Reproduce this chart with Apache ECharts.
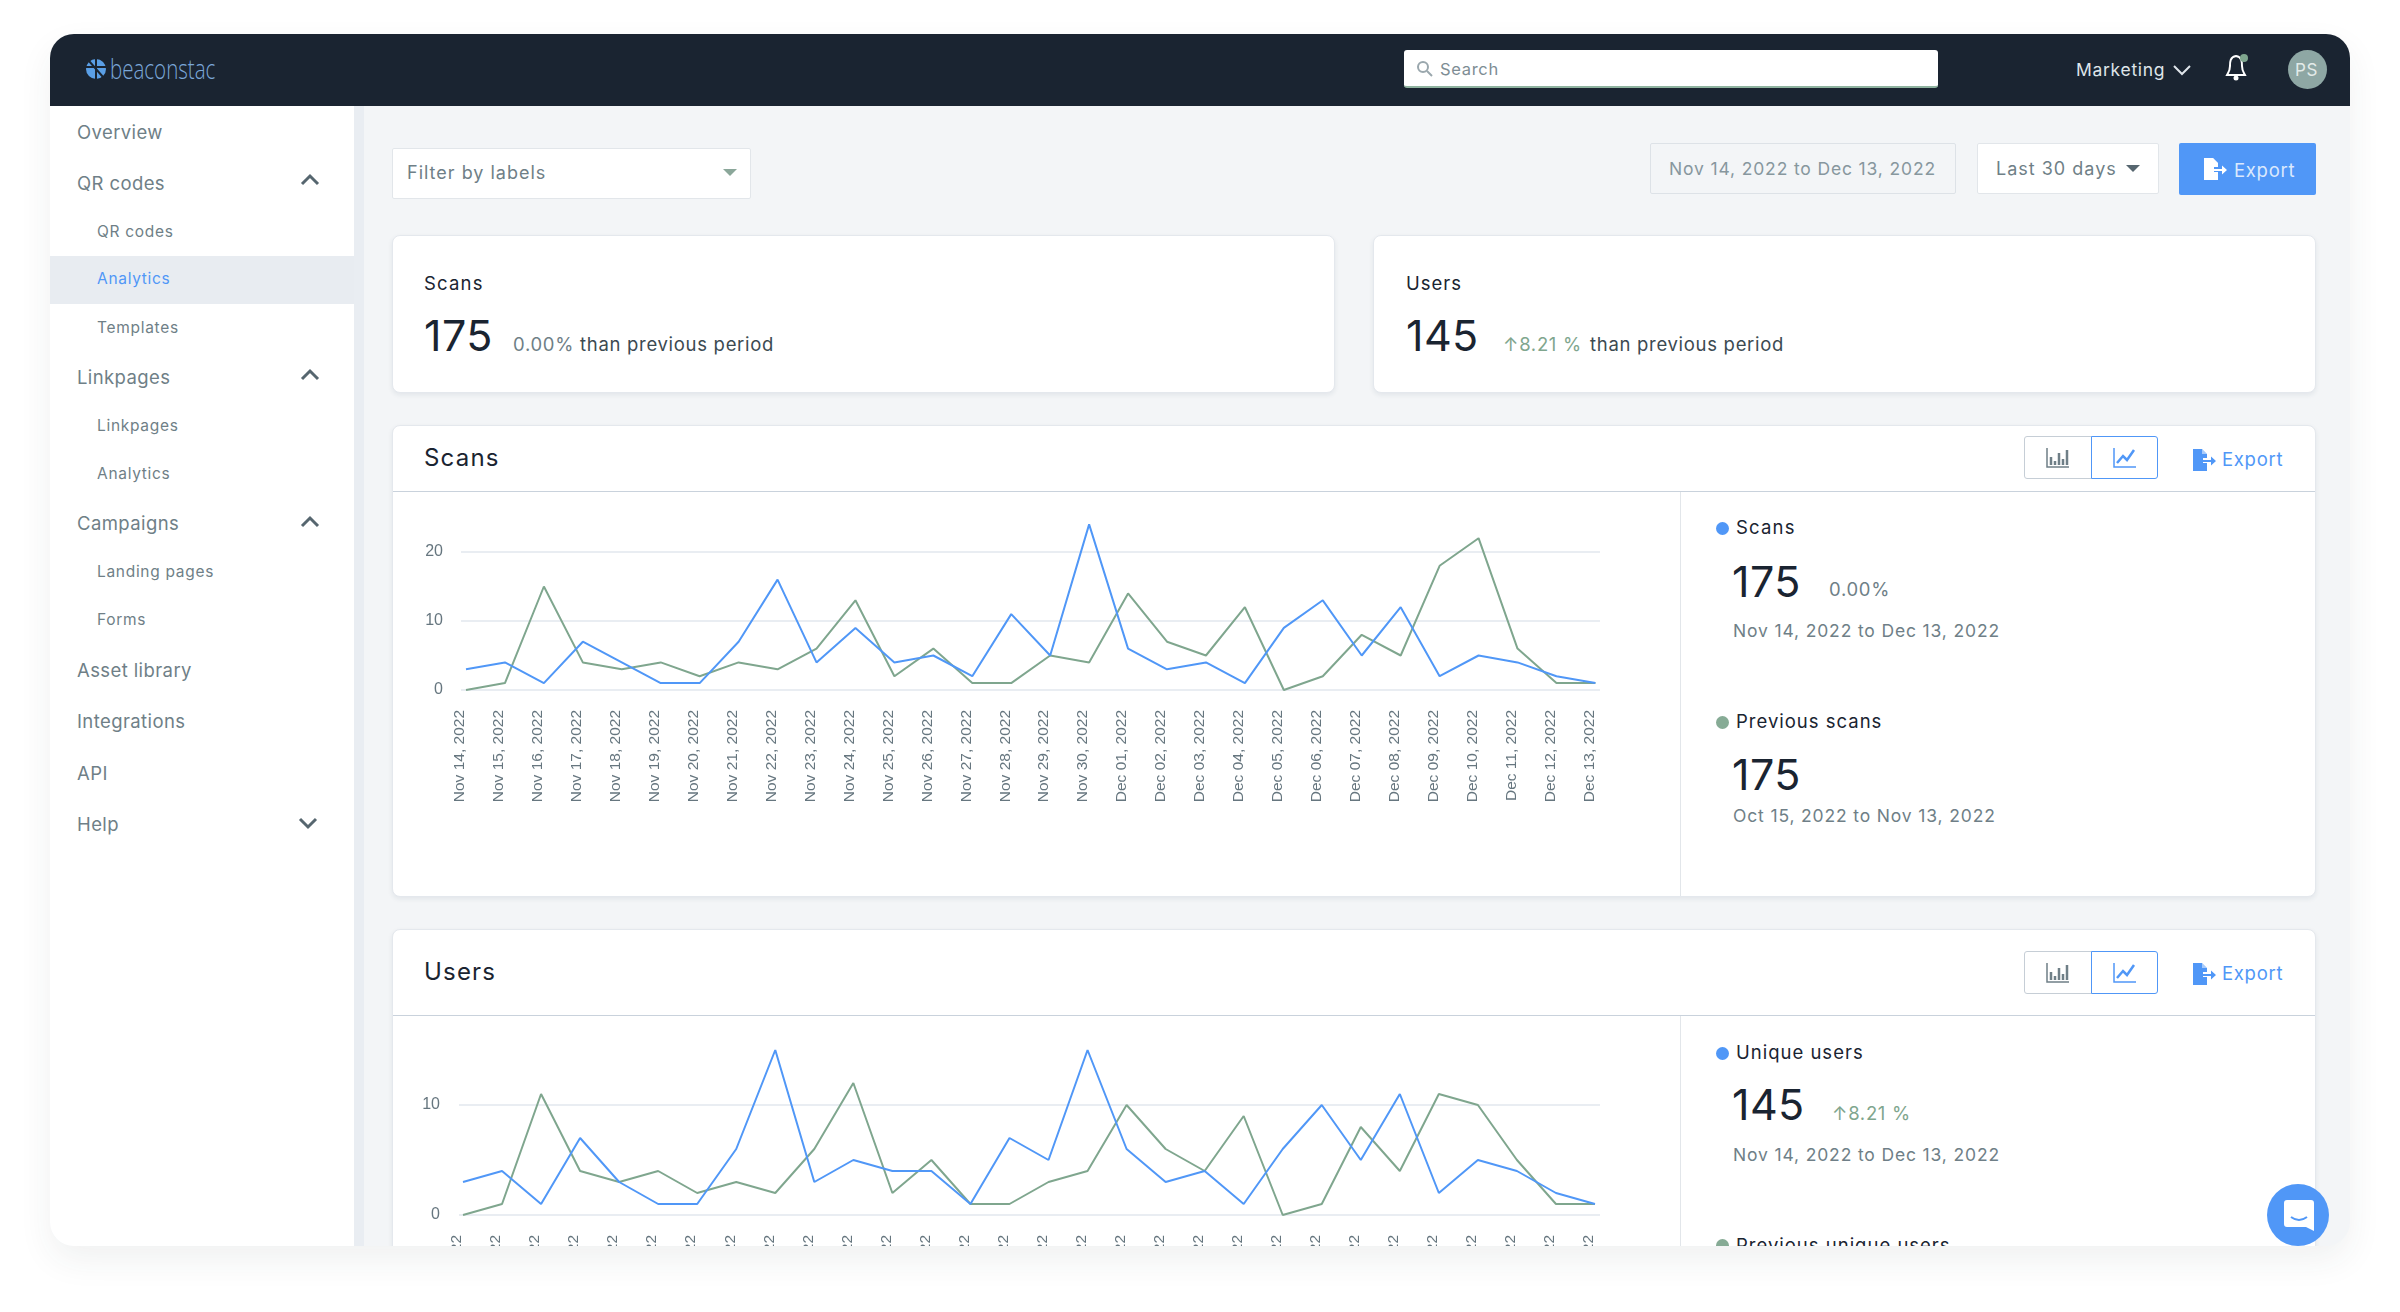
<!DOCTYPE html>
<html>
<head>
<meta charset="utf-8">
<title>Beaconstac analytics</title>
<script src="https://cdn.jsdelivr.net/npm/echarts@6/dist/echarts.min.js"></script>
<style>
  html, body { margin: 0; padding: 0; background: #fff; width: 2400px; height: 1312px; overflow: hidden; font-family: Inter, "Noto Sans", sans-serif; }
  #root { position: absolute; left: 0; top: 0; width: 2400px; height: 1312px; }
  #frame { position: absolute; left: 50px; top: 34px; width: 2300px; height: 1212px; border-radius: 24px; overflow: hidden; background: #f3f5f7; box-shadow: 0 14px 34px rgba(40,50,60,.07); }
  #stage { position: absolute; left: -50px; top: -34px; width: 2400px; height: 1312px; }
  .box { position: absolute; box-sizing: border-box; }
  .t { position: absolute; white-space: nowrap; line-height: 60px; letter-spacing: .7px; }
  .card { background: #fff; border: 1px solid #e4e8ed; border-radius: 8px; box-shadow: 0 2px 5px rgba(30,50,80,.08); }
  .chart { position: absolute; }
</style>
</head>
<body>
<div id="root"><div id="frame"><div id="stage"></div></div></div>
<script>
// 日期轴
const dates = ['Nov 14, 2022','Nov 15, 2022','Nov 16, 2022','Nov 17, 2022','Nov 18, 2022','Nov 19, 2022','Nov 20, 2022','Nov 21, 2022','Nov 22, 2022','Nov 23, 2022','Nov 24, 2022','Nov 25, 2022','Nov 26, 2022','Nov 27, 2022','Nov 28, 2022','Nov 29, 2022','Nov 30, 2022','Dec 01, 2022','Dec 02, 2022','Dec 03, 2022','Dec 04, 2022','Dec 05, 2022','Dec 06, 2022','Dec 07, 2022','Dec 08, 2022','Dec 09, 2022','Dec 10, 2022','Dec 11, 2022','Dec 12, 2022','Dec 13, 2022'];

const scans = [3,4,1,7,4,1,1,7,16,4,9,4,5,2,11,5,24,6,3,4,1,9,13,5,12,2,5,4,2,1];
const previousScans = [0,1,15,4,3,4,2,4,3,6,13,2,6,1,1,5,4,14,7,5,12,0,2,8,5,18,22,6,1,1];
const users = [3,4,1,7,3,1,1,6,15,3,5,4,4,1,7,5,15,6,3,4,1,6,10,5,11,2,5,4,2,1];
const previousUsers = [0,1,11,4,3,4,2,3,2,6,12,2,5,1,1,3,4,10,6,4,9,0,1,8,4,11,10,5,1,1];

const BLUE = '#5097f7', GREEN = '#7fa68e', INK = '#1a2431', GREY = '#6f7f87';
const BIG = 'letter-spacing:.4px';

const stage = document.getElementById('stage');
let html = '';

function box(x, y, w, h, style) {
  html += '<div class="box" style="left:' + x + 'px;top:' + y + 'px;width:' + w + 'px;height:' + h + 'px;' + (style || '') + '"></div>';
}
function card(x, y, w, h) {
  html += '<div class="box card" style="left:' + x + 'px;top:' + y + 'px;width:' + w + 'px;height:' + h + 'px"></div>';
}
function text(x, cy, s, size, color, extra) {
  html += '<span class="t" style="left:' + x + 'px;top:' + (cy - 30) + 'px;font-size:' + size + 'px;color:' + color + ';' + (extra || '') + '">' + s + '</span>';
}
function svg(x, y, w, h, body) {
  html += '<svg style="position:absolute;left:' + x + 'px;top:' + y + 'px" width="' + w + '" height="' + h + '" viewBox="0 0 ' + w + ' ' + h + '">' + body + '</svg>';
}
function chevron(cx, cy, up, color, sw) {
  const d = up ? -1 : 1;
  svg(cx - 10, cy - 8, 20, 16, '<path d="M2 ' + (8 - 4 * d) + ' L10 ' + (8 + 4 * d) + ' L18 ' + (8 - 4 * d) + '" fill="none" stroke="' + color + '" stroke-width="' + sw + '"/>');
}
function caret(cx, cy, color) {
  svg(cx - 7, cy - 4, 14, 8, '<path d="M0 0 L14 0 L7 7 Z" fill="' + color + '"/>');
}
function fileIcon(x, y, color) {
  svg(x, y, 24, 24, '<path d="M1 1 H10 L15 6 V10 H11 V15 H15 V23 H1 Z" fill="' + color + '"/><path d="M10 1 L15 6 H10 Z" fill="#fff" opacity=".5"/><path d="M11 12 H19 V8.5 L24 13 L19 17.5 V14 H11 Z" fill="' + color + '"/>');
}

// 顶栏
box(50, 34, 2300, 72, 'background:#1a2431');
svg(85, 58, 22, 22, '<circle cx="11" cy="11" r="10" fill="#5a9fe6"/><path d="M11 0 V22 M0 9 H22 M4 3 L18 19" stroke="#1a2431" stroke-width="2"/>');
text(110, 69, 'beaconstac', 27, '#7aa7d8', 'font-family:\'Open Sans\';font-weight:300;letter-spacing:0;transform:scaleX(.76);transform-origin:left center');
box(1404, 50, 534, 38, 'background:#fff;border-radius:3px;border-bottom:2px solid #8fb3a0');
svg(1416, 60, 18, 18, '<circle cx="7" cy="7" r="5" fill="none" stroke="#9aa7ad" stroke-width="2"/><path d="M11 11 L16 16" stroke="#9aa7ad" stroke-width="2"/>');
text(1440, 69, 'Search', 16.5, '#7e8d94');
text(2076, 69.5, 'Marketing', 17.5, '#dfe5ea');
chevron(2182, 70, false, '#dfe5ea', 2);
svg(2224, 52, 26, 30, '<path d="M12 4 C6 5 6 10 6 14 C6 19 4 21 3 23 H21 C20 21 18 19 18 14 C18 10 18 5 12 4 Z" fill="none" stroke="#fff" stroke-width="2"/><circle cx="12" cy="26" r="2.5" fill="#fff"/><circle cx="20" cy="6" r="4" fill="#7fa68e"/>');
box(2288, 50, 39, 39, 'background:#8ea7a4;border-radius:50%');
text(2295, 69.5, 'PS', 17, '#e3ebe9');

// 侧边栏
box(354, 106, 10, 1140, 'background:#e9edf2');
box(50, 106, 304, 1140, 'background:#fff');
box(50, 256, 304, 48, 'background:#e8ecf1');
const navTop = ['Overview','QR codes','Linkpages','Campaigns','Asset library','Integrations','API','Help'];
const navTopY = [132,183,376.5,523,670,721,773,824];
navTop.forEach((s, i) => text(77, navTopY[i], s, 18.5, GREY, 'letter-spacing:.4px'));
const navSub = ['QR codes','Analytics','Templates','Linkpages','Analytics','Landing pages','Forms'];
const navSubY = [232,279,328,426,474,572,620];
navSub.forEach((s, i) => text(97, navSubY[i], s, 15.5, i === 1 ? BLUE : GREY));
chevron(310, 180, true, '#56666f', 3);
chevron(310, 375, true, '#56666f', 3);
chevron(310, 522, true, '#56666f', 3);
chevron(308, 823, false, '#56666f', 3);

// 筛选行
box(392, 148, 359, 51, 'background:#fff;border:1px solid #e2e6ea;border-radius:2px');
text(407, 173, 'Filter by labels', 18, GREY, 'letter-spacing:1px');
caret(730, 173, '#8ba79a');
box(1650, 143, 306, 51, 'background:#f3f5f7;border:1px solid #dde2e7;border-radius:2px');
text(1669, 168.5, 'Nov 14, 2022 to Dec 13, 2022', 17.5, '#87979e', 'letter-spacing:.85px');
box(1977, 143, 182, 51, 'background:#fff;border:1px solid #e2e6ea;border-radius:2px');
text(1996, 168.5, 'Last 30 days', 18, GREY, 'letter-spacing:1px');
caret(2133, 169, '#56666f');
box(2179, 143, 137, 52, 'background:' + BLUE + ';border-radius:2px');
fileIcon(2203, 157, '#fff');
text(2234, 170, 'Export', 18.5, '#dbe9fd');

// 统计卡片
card(392, 235, 943, 158);
card(1373, 235, 943, 158);
text(424, 283, 'Scans', 18.5, INK, 'letter-spacing:1.2px');
text(424, 335, '175', 43, INK, BIG);
text(513, 344, '0.00%', 18.5, GREY);
text(580, 344, 'than previous period', 18.5, '#3c4a52');
text(1406, 283, 'Users', 18.5, INK, 'letter-spacing:1px');
text(1406, 335, '145', 43, INK, BIG);
text(1503, 344, '↑8.21 %', 18.5, GREEN);
text(1590, 344, 'than previous period', 18.5, '#3c4a52');

// 图表卡片头部和右侧说明
function chartCard(top, lineY, bottom, title, titleY, btnTop, btnH, exportY) {
  card(392, top, 1924, bottom - top);
  box(393, lineY, 1922, 1, 'background:#c9d2dc');
  box(1680, lineY + 1, 1, bottom - lineY - 2, 'background:#e2e6ea');
  text(424, titleY, title, 24, INK, 'letter-spacing:1.2px');
  box(2024, btnTop, 68, btnH, 'background:#fff;border:1px solid #c6ced6;border-radius:3px 0 0 3px');
  box(2091, btnTop, 67, btnH, 'background:#fff;border:1px solid ' + BLUE + ';border-radius:0 3px 3px 0');
  const iy = btnTop + btnH / 2 - 11;
  svg(2046, iy, 24, 22, '<path d="M1 1 V20 H23" fill="none" stroke="#6f7f87" stroke-width="1.5"/><path d="M5 10 V18 M9 14 V18 M13 6 V18 M17 12 V18 M21 3 V18" stroke="#6f7f87" stroke-width="2.5"/>');
  svg(2113, iy, 24, 22, '<path d="M1 1 V20 H23" fill="none" stroke="' + BLUE + '" stroke-width="1.5"/><path d="M4 16 L10 9 L14 13 L21 3" fill="none" stroke="' + BLUE + '" stroke-width="2.5"/>');
  fileIcon(2192, exportY - 11, BLUE);
  text(2222, exportY, 'Export', 18.5, BLUE);
}
function dot(y, color) {
  box(1716, y - 6.5, 13, 13, 'background:' + color + ';border-radius:50%');
}
chartCard(425, 491, 897, 'Scans', 458, 436, 43, 459);
dot(528, BLUE);
text(1736, 527, 'Scans', 18.5, INK, 'letter-spacing:1.2px');
text(1732, 581, '175', 43, INK, BIG);
text(1829, 589, '0.00%', 18.5, GREY);
text(1733, 630.5, 'Nov 14, 2022 to Dec 13, 2022', 17.5, GREY, 'letter-spacing:.85px');
dot(722, '#86ab95');
text(1736, 721, 'Previous scans', 18.5, INK, 'letter-spacing:1px');
text(1732, 774, '175', 43, INK, BIG);
text(1733, 815.5, 'Oct 15, 2022 to Nov 13, 2022', 17.5, GREY, 'letter-spacing:.85px');

chartCard(929, 1015, 1300, 'Users', 972, 951, 43, 973);
dot(1053, BLUE);
text(1736, 1052, 'Unique users', 18.5, INK, 'letter-spacing:1px');
text(1732, 1104, '145', 43, INK, BIG);
text(1832, 1113, '↑8.21 %', 18.5, GREEN);
text(1733, 1155, 'Nov 14, 2022 to Dec 13, 2022', 17.5, GREY, 'letter-spacing:.85px');
dot(1245, '#86ab95');
text(1736, 1245, 'Previous unique users', 18.5, INK, 'letter-spacing:1px');

// 右下角聊天按钮
box(2267, 1184, 62, 62, 'background:' + BLUE + ';border-radius:50%');
svg(2284, 1200, 30, 32, '<path d="M3 0 H27 Q30 0 30 3 V31 L22 27 H3 Q0 27 0 24 V3 Q0 0 3 0 Z" fill="#fff"/><path d="M7 17 Q15 23 23 17" fill="none" stroke="' + BLUE + '" stroke-width="2"/>');

html += '<div id="chart-scans" class="chart" style="left:392px;top:492px;width:1288px;height:405px"></div>';
html += '<div id="chart-users" class="chart" style="left:392px;top:1016px;width:1288px;height:230px"></div>';
stage.innerHTML = html;

function renderChart(id, cfg) {
  const chart = echarts.init(document.getElementById(id));
  const gridH = cfg.yMax * cfg.unit;
  const gridTop = cfg.zeroY - gridH;
  chart.setOption({
    animation: false,
    textStyle: { fontFamily: 'Liberation Sans' },
    grid: [
      // outerBoundsMode none: 否则竖排标签会把绘图区压缩
      { left: cfg.lineLeft, width: cfg.lineWidth, top: gridTop, height: gridH, outerBoundsMode: 'none' },
      { left: cfg.plotLeft, width: cfg.plotWidth, top: gridTop, height: gridH, outerBoundsMode: 'none' }
    ],
    xAxis: [
      { gridIndex: 0, type: 'value', show: false, min: 0, max: 1 },
      {
        gridIndex: 1, type: 'category', data: dates, boundaryGap: false,
        axisLine: { show: false }, axisTick: { show: false },
        axisLabel: { interval: 0, rotate: 90, margin: 20, align: 'right', verticalAlign: 'bottom', lineHeight: 12, fontSize: 15.5, color: '#66767f', fontFamily: 'Liberation Sans' }
      }
    ],
    yAxis: [
      {
        gridIndex: 0, type: 'value', min: 0, max: cfg.yMax, interval: 10,
        axisLine: { show: false }, axisTick: { show: false },
        axisLabel: { margin: cfg.labelMargin, showMaxLabel: false, fontSize: 16, color: '#66767f', fontFamily: 'Liberation Sans' },
        splitLine: { showMaxLine: false, lineStyle: { color: '#e2e7ee', width: 1.6 } }
      },
      { gridIndex: 1, type: 'value', show: false, min: 0, max: cfg.yMax, splitLine: { show: false } }
    ],
    series: [
      { type: 'line', name: cfg.names[1], xAxisIndex: 1, yAxisIndex: 1, data: cfg.previous, showSymbol: false, lineStyle: { color: GREEN, width: 2 }, itemStyle: { color: GREEN } },
      { type: 'line', name: cfg.names[0], xAxisIndex: 1, yAxisIndex: 1, data: cfg.current, showSymbol: false, z: 3, lineStyle: { color: BLUE, width: 2 }, itemStyle: { color: BLUE } }
    ]
  });
}

renderChart('chart-scans', {
  current: scans, previous: previousScans, names: ['Scans', 'Previous scans'],
  zeroY: 198, unit: 6.9, yMax: 25, labelMargin: 18,
  lineLeft: 69, lineWidth: 1139, plotLeft: 74, plotWidth: 1129.4
});
renderChart('chart-users', {
  current: users, previous: previousUsers, names: ['Unique users', 'Previous unique users'],
  zeroY: 199, unit: 11, yMax: 16, labelMargin: 19,
  lineLeft: 67, lineWidth: 1141, plotLeft: 71, plotWidth: 1132
});
</script>
</body>
</html>
